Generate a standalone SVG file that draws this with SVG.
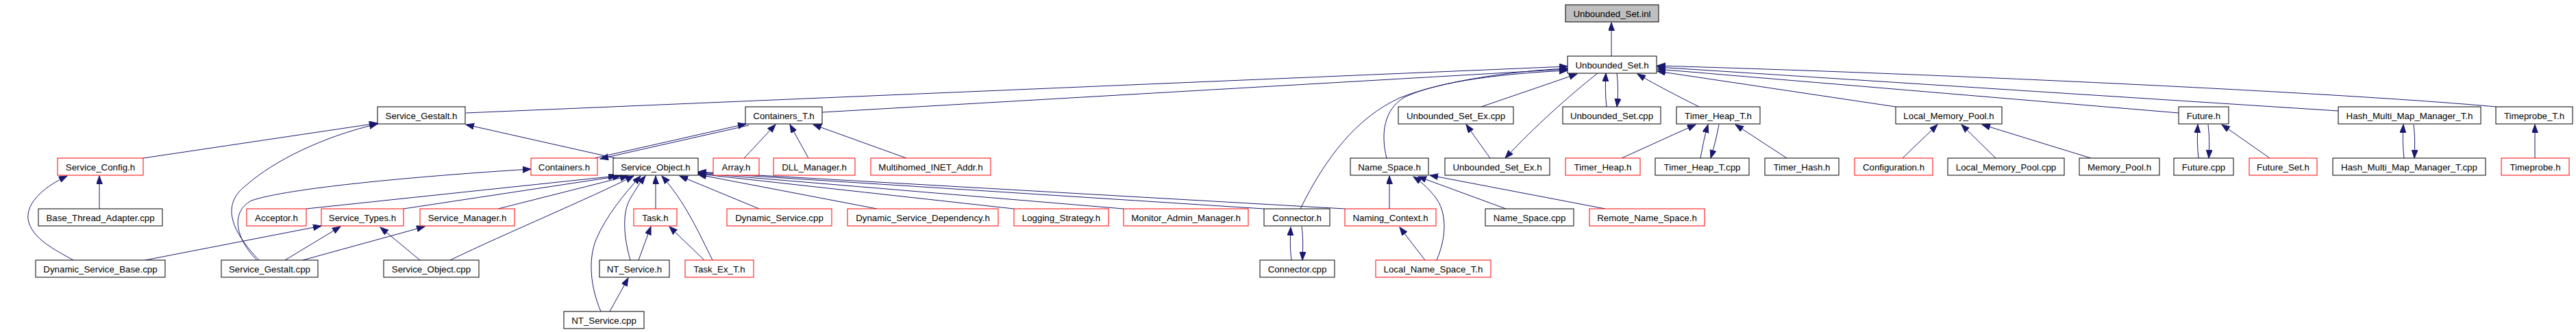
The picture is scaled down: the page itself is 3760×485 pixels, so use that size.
<svg xmlns="http://www.w3.org/2000/svg" width="3760" height="485" viewBox="0 0 3760 485">
<style>
.n rect{fill:#fff;stroke:#000;stroke-width:1}
.r rect{stroke:#f00}
.g rect{fill:#bfbfbf}
text{font-family:"Liberation Sans",Arial,Helvetica,sans-serif;font-size:13.3px;text-anchor:middle;fill:#000}
#edges path{fill:none;stroke:#191970;stroke-width:1;marker-end:url(#a)}
</style>
<defs>
<marker id="a" markerUnits="userSpaceOnUse" markerWidth="13" markerHeight="10" refX="12" refY="4.5" orient="auto"><path d="M0,0 L12,4.5 L0,9 z" fill="#191970" stroke="#191970"/></marker>
</defs>
<rect width="3760" height="485" fill="#fff"/>
<g id="edges">
<path d="M2352,82 L2352,33"/>
<path d="M680,165 L2288,97"/>
<path d="M1200,164 L2288,101"/>
<path d="M1898,305 C1935,230 1980,172 2043,143 C2100,120 2200,104 2288,100"/>
<path d="M2024,231 C2015,195 2020,160 2050,142 C2100,118 2200,107 2288,103"/>
<path d="M2162,156 L2302,108"/>
<path d="M2332,107 C2290,140 2240,185 2197,231"/>
<path d="M2175,231 L2140,182"/>
<path d="M2345,156 C2343,140 2343,125 2344,107"/>
<path d="M2360,107 C2362,125 2362,140 2360,156"/>
<path d="M2480,156 C2440,136 2410,120 2390,108"/>
<path d="M2767,156 L2419,104"/>
<path d="M3180,165 L2419,101"/>
<path d="M3413,162 L2419,98"/>
<path d="M3643,156 C3450,138 2900,110 2419,96"/>
<path d="M209,231 L551,180"/>
<path d="M378,380 C340,340 320,300 360,270 C400,235 470,200 551,181"/>
<path d="M898,231 L680,182"/>
<path d="M145,305 L145,257"/>
<path d="M107,380 C80,365 50,350 42,325 C35,300 60,275 98,257"/>
<path d="M375,380 C345,350 335,310 367,293 C420,275 600,258 775,247"/>
<path d="M416,380 L497,331"/>
<path d="M442,380 L620,331"/>
<path d="M212,380 L469,330"/>
<path d="M613,380 L555,332"/>
<path d="M657,380 C740,340 860,290 925,257"/>
<path d="M447,305 L900,257"/>
<path d="M589,305 L906,257"/>
<path d="M727,305 L917,257"/>
<path d="M877,455 C862,420 858,380 870,350 C885,315 910,285 935,257"/>
<path d="M920,380 C910,345 908,310 920,290 C926,280 933,268 942,257"/>
<path d="M957,305 L957,257"/>
<path d="M1040,380 C1020,340 1000,295 966,257"/>
<path d="M1108,305 L992,257"/>
<path d="M1280,305 L1019,255"/>
<path d="M1480,305 L1019,254"/>
<path d="M1640,305 L1019,253"/>
<path d="M1845,305 L1019,252"/>
<path d="M1963,305 L1019,251"/>
<path d="M868,231 L1089,181"/>
<path d="M1093,183 L876,232"/>
<path d="M1086,231 C1095,222 1110,205 1132,182"/>
<path d="M1180,231 L1153,182"/>
<path d="M1323,231 L1187,182"/>
<path d="M932,380 L950,331"/>
<path d="M1028,380 L977,331"/>
<path d="M890,455 L917,406"/>
<path d="M2028,305 L2028,257"/>
<path d="M2097,380 C2112,345 2112,310 2095,288 C2085,275 2075,266 2063,258"/>
<path d="M2198,305 L2070,258"/>
<path d="M2343,305 L2087,256"/>
<path d="M2080,380 L2043,332"/>
<path d="M1885,380 C1883,365 1883,350 1884,332"/>
<path d="M1900,331 C1902,345 1902,360 1901,380"/>
<path d="M2367,231 L2475,182"/>
<path d="M2482,231 C2485,215 2488,198 2493,182"/>
<path d="M2509,182 C2506,198 2502,215 2497,231"/>
<path d="M2608,231 L2533,182"/>
<path d="M2777,231 L2828,182"/>
<path d="M2913,231 L2863,182"/>
<path d="M3052,231 L2893,182"/>
<path d="M3209,231 C3207,215 3207,198 3208,182"/>
<path d="M3223,182 C3225,198 3225,215 3224,231"/>
<path d="M3313,231 L3243,182"/>
<path d="M3509,231 C3507,215 3507,198 3508,182"/>
<path d="M3523,182 C3525,198 3525,215 3524,231"/>
<path d="M3700,231 L3700,182"/>
</g>
<g id="inl" class="n g"><rect x="2285" y="7" width="136" height="25"/><text x="2353" y="24.5">Unbounded_Set.inl</text></g>
<g id="us_h" class="n"><rect x="2288" y="82" width="130" height="25"/><text x="2353" y="99.5">Unbounded_Set.h</text></g>
<g id="sg_h" class="n"><rect x="551" y="156" width="128" height="25"/><text x="615" y="173.5">Service_Gestalt.h</text></g>
<g id="ct_h" class="n"><rect x="1088" y="156" width="112" height="25"/><text x="1144" y="173.5">Containers_T.h</text></g>
<g id="usex_cpp" class="n"><rect x="2041" y="156" width="168" height="25"/><text x="2125" y="173.5">Unbounded_Set_Ex.cpp</text></g>
<g id="us_cpp" class="n"><rect x="2281" y="156" width="143" height="25"/><text x="2352.5" y="173.5">Unbounded_Set.cpp</text></g>
<g id="thT_h" class="n"><rect x="2447" y="156" width="122" height="25"/><text x="2508" y="173.5">Timer_Heap_T.h</text></g>
<g id="lmp_h" class="n"><rect x="2767" y="156" width="155" height="25"/><text x="2844.5" y="173.5">Local_Memory_Pool.h</text></g>
<g id="fut_h" class="n"><rect x="3180" y="156" width="73" height="25"/><text x="3216.5" y="173.5">Future.h</text></g>
<g id="hmm_h" class="n"><rect x="3413" y="156" width="208" height="25"/><text x="3517" y="173.5">Hash_Multi_Map_Manager_T.h</text></g>
<g id="tpT_h" class="n"><rect x="3643" y="156" width="112" height="25"/><text x="3699" y="173.5">Timeprobe_T.h</text></g>
<g id="sc_h" class="n r"><rect x="84" y="231" width="125" height="25"/><text x="146.5" y="248.5">Service_Config.h</text></g>
<g id="cont_h" class="n r"><rect x="775" y="231" width="97" height="25"/><text x="823.5" y="248.5">Containers.h</text></g>
<g id="so_h" class="n"><rect x="895" y="231" width="124" height="25"/><text x="957" y="248.5">Service_Object.h</text></g>
<g id="arr_h" class="n r"><rect x="1041" y="231" width="67" height="25"/><text x="1074.5" y="248.5">Array.h</text></g>
<g id="dll_h" class="n r"><rect x="1129" y="231" width="119" height="25"/><text x="1188.5" y="248.5">DLL_Manager.h</text></g>
<g id="mia_h" class="n r"><rect x="1271" y="231" width="175" height="25"/><text x="1358.5" y="248.5">Multihomed_INET_Addr.h</text></g>
<g id="ns_h" class="n"><rect x="1971" y="231" width="114" height="25"/><text x="2028" y="248.5">Name_Space.h</text></g>
<g id="usex_h" class="n"><rect x="2109" y="231" width="153" height="25"/><text x="2185.5" y="248.5">Unbounded_Set_Ex.h</text></g>
<g id="th_h" class="n r"><rect x="2285" y="231" width="109" height="25"/><text x="2339.5" y="248.5">Timer_Heap.h</text></g>
<g id="thT_cpp" class="n"><rect x="2416" y="231" width="137" height="25"/><text x="2484.5" y="248.5">Timer_Heap_T.cpp</text></g>
<g id="thash_h" class="n"><rect x="2576" y="231" width="108" height="25"/><text x="2630" y="248.5">Timer_Hash.h</text></g>
<g id="cfg_h" class="n r"><rect x="2707" y="231" width="114" height="25"/><text x="2764" y="248.5">Configuration.h</text></g>
<g id="lmp_cpp" class="n"><rect x="2843" y="231" width="170" height="25"/><text x="2928" y="248.5">Local_Memory_Pool.cpp</text></g>
<g id="mp_h" class="n"><rect x="3035" y="231" width="117" height="25"/><text x="3093.5" y="248.5">Memory_Pool.h</text></g>
<g id="fut_cpp" class="n"><rect x="3173" y="231" width="87" height="25"/><text x="3216.5" y="248.5">Future.cpp</text></g>
<g id="futset_h" class="n r"><rect x="3283" y="231" width="99" height="25"/><text x="3332.5" y="248.5">Future_Set.h</text></g>
<g id="hmm_cpp" class="n"><rect x="3405" y="231" width="223" height="25"/><text x="3516.5" y="248.5">Hash_Multi_Map_Manager_T.cpp</text></g>
<g id="tp_h" class="n r"><rect x="3651" y="231" width="99" height="25"/><text x="3700.5" y="248.5">Timeprobe.h</text></g>
<g id="bta_cpp" class="n"><rect x="56" y="305" width="181" height="25"/><text x="146.5" y="322.5">Base_Thread_Adapter.cpp</text></g>
<g id="acc_h" class="n r"><rect x="360" y="305" width="87" height="25"/><text x="403.5" y="322.5">Acceptor.h</text></g>
<g id="st_h" class="n r"><rect x="469" y="305" width="120" height="25"/><text x="529" y="322.5">Service_Types.h</text></g>
<g id="sm_h" class="n r"><rect x="613" y="305" width="138" height="25"/><text x="682" y="322.5">Service_Manager.h</text></g>
<g id="task_h" class="n r"><rect x="925" y="305" width="63" height="25"/><text x="956.5" y="322.5">Task.h</text></g>
<g id="ds_cpp" class="n r"><rect x="1061" y="305" width="153" height="25"/><text x="1137.5" y="322.5">Dynamic_Service.cpp</text></g>
<g id="dsd_h" class="n r"><rect x="1237" y="305" width="220" height="25"/><text x="1347" y="322.5">Dynamic_Service_Dependency.h</text></g>
<g id="ls_h" class="n r"><rect x="1480" y="305" width="138" height="25"/><text x="1549" y="322.5">Logging_Strategy.h</text></g>
<g id="mam_h" class="n r"><rect x="1640" y="305" width="182" height="25"/><text x="1731" y="322.5">Monitor_Admin_Manager.h</text></g>
<g id="con_h" class="n"><rect x="1845" y="305" width="96" height="25"/><text x="1893" y="322.5">Connector.h</text></g>
<g id="nc_h" class="n r"><rect x="1963" y="305" width="133" height="25"/><text x="2029.5" y="322.5">Naming_Context.h</text></g>
<g id="ns_cpp" class="n"><rect x="2168" y="305" width="129" height="25"/><text x="2232.5" y="322.5">Name_Space.cpp</text></g>
<g id="rns_h" class="n r"><rect x="2320" y="305" width="168" height="25"/><text x="2404" y="322.5">Remote_Name_Space.h</text></g>
<g id="dsb_cpp" class="n"><rect x="52" y="380" width="189" height="25"/><text x="146.5" y="397.5">Dynamic_Service_Base.cpp</text></g>
<g id="sg_cpp" class="n"><rect x="323" y="380" width="141" height="25"/><text x="393.5" y="397.5">Service_Gestalt.cpp</text></g>
<g id="so_cpp" class="n"><rect x="560" y="380" width="139" height="25"/><text x="629.5" y="397.5">Service_Object.cpp</text></g>
<g id="nts_h" class="n"><rect x="875" y="380" width="102" height="25"/><text x="926" y="397.5">NT_Service.h</text></g>
<g id="tex_h" class="n r"><rect x="1000" y="380" width="100" height="25"/><text x="1050" y="397.5">Task_Ex_T.h</text></g>
<g id="con_cpp" class="n"><rect x="1839" y="380" width="109" height="25"/><text x="1893.5" y="397.5">Connector.cpp</text></g>
<g id="lns_h" class="n r"><rect x="2008" y="380" width="168" height="25"/><text x="2092" y="397.5">Local_Name_Space_T.h</text></g>
<g id="nts_cpp" class="n"><rect x="823" y="455" width="117" height="25"/><text x="881.5" y="472.5">NT_Service.cpp</text></g>
</svg>
